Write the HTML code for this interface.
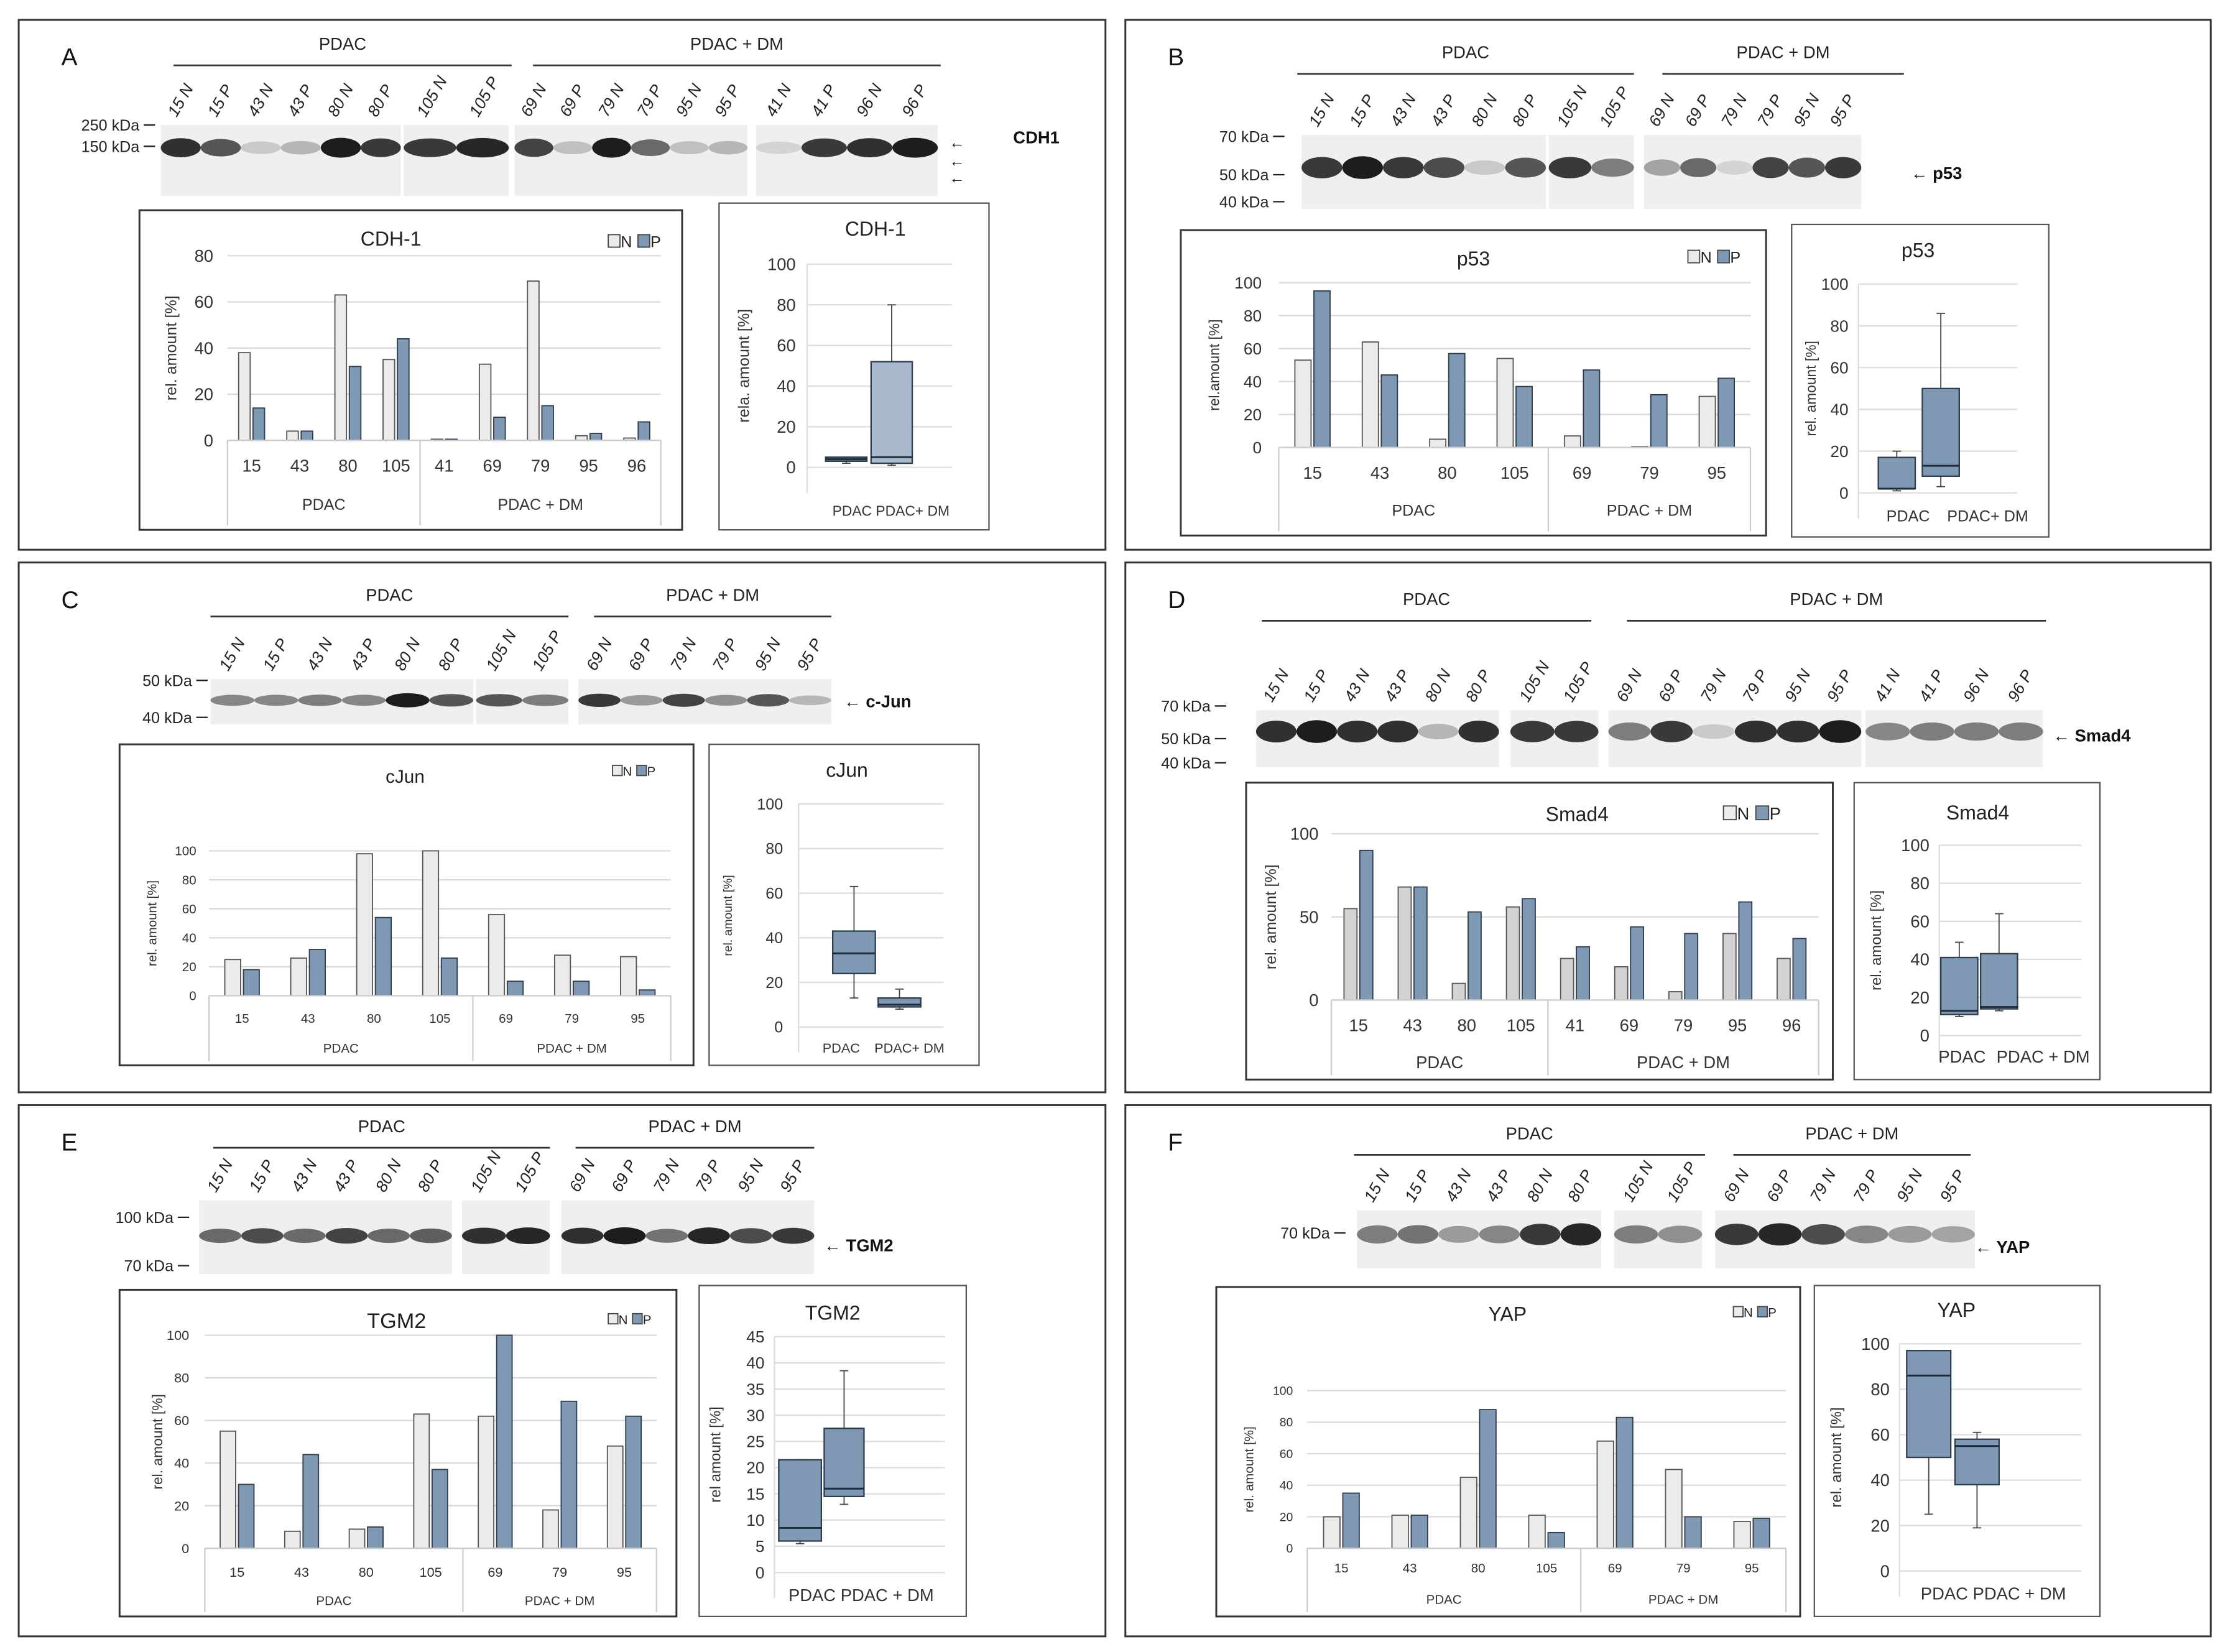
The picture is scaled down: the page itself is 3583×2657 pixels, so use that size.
<!DOCTYPE html>
<html><head><meta charset="utf-8"><style>
html,body{margin:0;padding:0;background:#fff;}
svg{display:block;font-family:"Liberation Sans",sans-serif;}
</style></head><body>
<svg id="fig" width="3583" height="2657" viewBox="0 0 1568 1163" xmlns="http://www.w3.org/2000/svg"></svg>
<script>
// ---------- DATA ----------
const aCats=['15','43','80','105','41','69','79','95','96'];
const aN=[38,4,63,35,0.5,33,69,2,1];
const aP=[14,4,32,44,0.5,10,15,3,8];
const aTicks=[0,20,40,60,80];
const aBoxPDAC=[2,3,4,5,5];
const aBoxDM=[1,2,5,52,80];
const bCats=['15','43','80','105','69','79','95'];
const bN=[53,64,5,54,7,0.5,31];
const bP=[95,44,57,37,47,32,42];
const bTicks=[0,20,40,60,80,100];
const bBoxPDAC=[1,2,2,17,20];
const bBoxDM=[3,8,13,50,86];
const cCats=['15','43','80','105','69','79','95'];
const cN=[25,26,98,100,56,28,27];
const cP=[18,32,54,26,10,10,4];
const cTicks=[0,20,40,60,80,100];
const cBoxPDAC=[13,24,33,43,63];
const cBoxDM=[8,9,10,13,17];
const dCats=['15','43','80','105','41','69','79','95','96'];
const dN=[55,68,10,56,25,20,5,40,25];
const dP=[90,68,53,61,32,44,40,59,37];
const dTicks=[0,50,100];
const dBoxTicks=[0,20,40,60,80,100];
const dBoxPDAC=[10,11,13,41,49];
const dBoxDM=[13,14,15,43,64];
const eCats=['15','43','80','105','69','79','95'];
const eN=[55,8,9,63,62,18,48];
const eP=[30,44,10,37,100,69,62];
const eTicks=[0,20,40,60,80,100];
const eBoxTicks=[0,5,10,15,20,25,30,35,40,45];
const eBoxPDAC=[5.5,6,8.5,21.5,21.5];
const eBoxDM=[13,14.5,16,27.5,38.5];
const fCats=['15','43','80','105','69','79','95'];
const fN=[20,21,45,21,68,50,17];
const fP=[35,21,88,10,83,20,19];
const fTicks=[0,20,40,60,80,100];
const fBoxPDAC=[25,50,86,97,97];
const fBoxDM=[19,38,55,58,61];

// ---------- HELPERS ----------
const NS='http://www.w3.org/2000/svg';
const svg=document.getElementById('fig');
function mk(tag,parent,attrs,text){const e=document.createElementNS(NS,tag);for(const k in attrs)e.setAttribute(k,attrs[k]);if(text!==undefined)e.textContent=text;parent.appendChild(e);return e;}
const NC='#ebebeb', PC='#7f98b3';

function barChart(o){
  const g=mk('g',svg,{});
  
  
  const [x1,y1,x2,y2]=o.box;
  const fr=mk('rect',g,{x:x1,y:y1,width:x2-x1,height:y2-y1,fill:'#fff',stroke:'#333','stroke-width':1.3});
  
  
  const t=mk('text',g,{x:o.tx,y:o.ty,'font-size':o.tfs||14,'text-anchor':'middle',fill:'#222'},o.title);
  
  
  const lg=mk('g',g,{});
  
  
  const ls=o.lfs||10;
  mk('rect',lg,{x:o.legend[0],y:o.legend[1]-ls*0.8,width:ls*0.75,height:ls*0.8,fill:NC,stroke:'#444','stroke-width':0.8});
  mk('text',lg,{x:o.legend[0]+ls*0.8,y:o.legend[1],'font-size':ls,fill:'#222'},'N');
  mk('rect',lg,{x:o.legend[0]+ls*1.9,y:o.legend[1]-ls*0.8,width:ls*0.75,height:ls*0.8,fill:PC,stroke:'#444','stroke-width':0.8});
  mk('text',lg,{x:o.legend[0]+ls*2.7,y:o.legend[1],'font-size':ls,fill:'#222'},'P');
  const ymax=o.ticks[o.ticks.length-1];
  const ys=v=>o.y0-(v/ymax)*(o.y0-o.yTop);
  o.ticks.forEach(v=>{
    if(v>0){const gl=mk('line',g,{x1:o.px1,x2:o.px2,y1:ys(v),y2:ys(v),stroke:'#d9d9d9','stroke-width':1});
      
      }
    const tl=mk('text',g,{x:o.lx,y:ys(v)+o.tkfs*0.35,'font-size':o.tkfs,'text-anchor':'end',fill:'#333'},String(v));
    
    
  });
  const yt=mk('text',g,{x:o.ytx,y:(o.y0+o.yTop)/2,'font-size':o.ytfs||10,'text-anchor':'middle',fill:'#333',transform:`rotate(-90 ${o.ytx} ${(o.y0+o.yTop)/2})`},o.ytitle||'rel. amount [%]');
  
  
  const n=o.cats.length, gw=(o.px2-o.px1)/n, bw=gw*0.24;
  o.cats.forEach((c,i)=>{
    const cx=o.px1+gw*(i+0.5);
    const rn=mk('rect',g,{x:cx-bw-1,y:ys(o.n[i]),width:bw,height:o.y0-ys(o.n[i]),fill:o.ncol||NC,stroke:'#555','stroke-width':0.8});
    
    
    const rp=mk('rect',g,{x:cx+1,y:ys(o.p[i]),width:bw,height:o.y0-ys(o.p[i]),fill:PC,stroke:'#2e3d4d','stroke-width':0.8});
    
    
    const cl=mk('text',g,{x:cx,y:o.catY,'font-size':o.cfs,'text-anchor':'middle',fill:'#333'},c);
    
    
  });
  const sx=o.px1+gw*o.sep;
  [o.px1,sx,o.px2].forEach(x=>mk('line',g,{x1:x,x2:x,y1:o.y0,y2:y2-3,stroke:'#ccc','stroke-width':1}));
  mk('line',g,{x1:o.px1,x2:o.px2,y1:o.y0,y2:o.y0,stroke:'#ccc','stroke-width':1});
  const g1=mk('text',g,{x:(o.px1+sx)/2,y:o.gY,'font-size':o.gfs,'text-anchor':'middle',fill:'#333'},'PDAC');
  
  
  const g2=mk('text',g,{x:(sx+o.px2)/2,y:o.gY,'font-size':o.gfs,'text-anchor':'middle',fill:'#333'},'PDAC + DM');
  
  
}

function boxChart(o){
  const g=mk('g',svg,{});
  
  
  const [x1,y1,x2,y2]=o.box;
  const fr=mk('rect',g,{x:x1,y:y1,width:x2-x1,height:y2-y1,fill:'#fff',stroke:'#555','stroke-width':1});
  
  
  const t=mk('text',g,{x:o.tx,y:o.ty,'font-size':14,'text-anchor':'middle',fill:'#222'},o.title);
  
  
  const ymax=o.ticks[o.ticks.length-1];
  const ys=v=>o.y0-(v/ymax)*(o.y0-o.yTop);
  o.ticks.forEach(v=>{
    const gl=mk('line',g,{x1:o.px1,x2:o.px2,y1:ys(v),y2:ys(v),stroke:'#ddd','stroke-width':1});
    
    
    const tl=mk('text',g,{x:o.lx,y:ys(v)+o.tkfs*0.35,'font-size':o.tkfs,'text-anchor':'end',fill:'#333'},String(v));
    
    
  });
  mk('line',g,{x1:o.px1,x2:o.px1,y1:o.yTop,y2:o.y0+18,stroke:'#ddd','stroke-width':1});
  const yc=(o.y0+o.yTop)/2;
  const yt=mk('text',g,{x:o.ytx,y:yc,'font-size':o.ytfs||10,'text-anchor':'middle',fill:'#333',transform:`rotate(-90 ${o.ytx} ${yc})`},o.ytitle||'rel. amount [%]');
  
  
  o.boxes.forEach((b,i)=>{
    const s=b.s, cx=b.x+b.w/2;
    const bg=mk('g',g,{});
    
    
    mk('line',bg,{x1:cx,x2:cx,y1:ys(s[4]),y2:ys(s[3]),stroke:'#444','stroke-width':0.8});
    mk('line',bg,{x1:cx-3,x2:cx+3,y1:ys(s[4]),y2:ys(s[4]),stroke:'#444','stroke-width':0.8});
    mk('line',bg,{x1:cx,x2:cx,y1:ys(s[1]),y2:ys(s[0]),stroke:'#444','stroke-width':0.8});
    mk('line',bg,{x1:cx-3,x2:cx+3,y1:ys(s[0]),y2:ys(s[0]),stroke:'#444','stroke-width':0.8});
    mk('rect',bg,{x:b.x,y:ys(s[3]),width:b.w,height:Math.max(1,ys(s[1])-ys(s[3])),fill:b.fill||PC,stroke:'#2e3d4d','stroke-width':1});
    mk('line',bg,{x1:b.x,x2:b.x+b.w,y1:ys(s[2]),y2:ys(s[2]),stroke:'#1e2b38','stroke-width':1.3});
  });
  o.labels.forEach(l=>{
    const tl=mk('text',g,{x:l[1],y:o.labY,'font-size':o.lfs||11,'text-anchor':'middle',fill:'#333'},l[0]);
    
    
  });
}

function panel(letter,x1,y1,x2,y2){
  const r=mk('rect',svg,{x:x1,y:y1,width:x2-x1,height:y2-y1,fill:'none',stroke:'#333','stroke-width':1.3});
  
  
  const t=mk('text',svg,{x:x1+30,y:y1+32,'font-size':17,fill:'#111'},letter);
  
  
}

function blot(o){
  const g=mk('g',svg,{});
  
  
  o.headers.forEach(h=>{
    mk('line',g,{x1:h[1],x2:h[2],y1:o.hy,y2:o.hy,stroke:'#333','stroke-width':1.2});
    const ht=mk('text',g,{x:(h[1]+h[2])/2,y:o.hy-11,'font-size':12,'text-anchor':'middle',fill:'#222'},h[0]);
    
    
  });
  o.strips.forEach(s=>{
    const [sx1,sx2,labs,ints]=s;
    mk('rect',g,{x:sx1,y:o.y1,width:sx2-sx1,height:o.y2-o.y1,fill:'#efefef'});
    const lw=(sx2-sx1)/labs.length;
    labs.forEach((l,i)=>{
      const cx=sx1+lw*(i+0.5);
      const band=mk('ellipse',g,{cx:cx,cy:o.by,rx:lw*0.5,ry:o.bh*(0.6+0.4*ints[i]),fill:'#111','fill-opacity':0.08+0.87*ints[i]});
      
      
      const lx=cx-3, ly=o.y1-5;
      const lt=mk('text',g,{x:lx,y:ly,'font-size':11.5,'font-style':'italic',fill:'#222',transform:`rotate(-60 ${lx} ${ly})`},l);
      
      
    });
  });
  o.kda.forEach(k=>{
    const kt=mk('text',g,{x:k[1],y:k[2]+4,'font-size':11,'text-anchor':'end',fill:'#222'},k[0]+' kDa');
    
    
    mk('line',g,{x1:k[1]+3,x2:k[1]+11,y1:k[2],y2:k[2],stroke:'#222','stroke-width':1});
  });
  const pt=mk('text',g,{x:o.prot[1],y:o.prot[2]+4,'font-size':12,'font-weight':'bold',fill:'#111'},(o.arrow?'← ':'')+o.prot[0]);
  
  
}

// ---------- PANELS ----------
panel('A',13,14,778,387);panel('B',792,14,1556,387);
panel('C',13,396,778,769);panel('D',792,396,1556,769);
panel('E',13,778,778,1152);panel('F',792,778,1556,1152);

blot({name:'blot-a-cdh1',hy:46,y1:88,y2:138,by:104,bh:7,
 headers:[['PDAC',122,360],['PDAC + DM',375,662]],
 strips:[[113,282,['15 N','15 P','43 N','43 P','80 N','80 P'],[0.9,0.7,0.1,0.2,1,0.85]],
  [284,358,['105 N','105 P'],[0.85,0.95]],
  [362,526,['69 N','69 P','79 N','79 P','95 N','95 P'],[0.8,0.15,1,0.6,0.15,0.2]],
  [532,660,['41 N','41 P','96 N','96 P'],[0.05,0.85,0.9,1]]],
 kda:[['250',98,88],['150',98,103]],prot:['CDH1',713,97],arrow:false});
mk('text',svg,{x:668,y:104,'font-size':11,fill:'#111'},'←');
mk('text',svg,{x:668,y:117,'font-size':11,fill:'#111'},'←');
mk('text',svg,{x:668,y:129,'font-size':11,fill:'#111'},'←');

blot({name:'blot-b-p53',hy:52,y1:95,y2:147,by:118,bh:8,
 headers:[['PDAC',913,1150],['PDAC + DM',1170,1340]],
 strips:[[916,1088,['15 N','15 P','43 N','43 P','80 N','80 P'],[0.85,1,0.85,0.75,0.1,0.7]],
  [1090,1150,['105 N','105 P'],[0.85,0.5]],
  [1157,1310,['69 N','69 P','79 N','79 P','95 N','95 P'],[0.3,0.6,0.05,0.8,0.7,0.85]]],
 kda:[['70',893,96],['50',893,123],['40',893,142]],prot:['p53',1345,122],arrow:true});

blot({name:'blot-c-cjun',hy:434,y1:478,y2:510,by:493,bh:5,
 headers:[['PDAC',148,400],['PDAC + DM',418,585]],
 strips:[[148,333,['15 N','15 P','43 N','43 P','80 N','80 P'],[0.45,0.45,0.5,0.45,1,0.7]],
  [335,400,['105 N','105 P'],[0.7,0.5]],
  [407,585,['69 N','69 P','79 N','79 P','95 N','95 P'],[0.85,0.35,0.8,0.4,0.7,0.2]]],
 kda:[['50',135,479],['40',135,505]],prot:['c-Jun',594,494],arrow:true});

blot({name:'blot-d-smad4',hy:437,y1:500,y2:540,by:515,bh:8,
 headers:[['PDAC',888,1120],['PDAC + DM',1145,1440]],
 strips:[[884,1055,['15 N','15 P','43 N','43 P','80 N','80 P'],[0.9,1,0.9,0.9,0.2,0.9]],
  [1063,1125,['105 N','105 P'],[0.85,0.85]],
  [1132,1310,['69 N','69 P','79 N','79 P','95 N','95 P'],[0.5,0.85,0.1,0.9,0.9,1]],
  [1313,1438,['41 N','41 P','96 N','96 P'],[0.45,0.5,0.5,0.5]]],
 kda:[['70',852,497],['50',852,520],['40',852,537]],prot:['Smad4',1445,518],arrow:true});

blot({name:'blot-e-tgm2',hy:808,y1:845,y2:897,by:870,bh:6,
 headers:[['PDAC',150,387],['PDAC + DM',405,573]],
 strips:[[140,318,['15 N','15 P','43 N','43 P','80 N','80 P'],[0.6,0.75,0.6,0.8,0.6,0.65]],
  [325,387,['105 N','105 P'],[0.9,0.95]],
  [395,573,['69 N','69 P','79 N','79 P','95 N','95 P'],[0.9,1,0.55,0.95,0.75,0.85]]],
 kda:[['100',122,857],['70',122,891]],prot:['TGM2',580,877],arrow:true});

blot({name:'blot-f-yap',hy:813,y1:852,y2:893,by:869,bh:8,
 headers:[['PDAC',953,1200],['PDAC + DM',1220,1387]],
 strips:[[955,1127,['15 N','15 P','43 N','43 P','80 N','80 P'],[0.5,0.55,0.35,0.45,0.85,0.95]],
  [1136,1198,['105 N','105 P'],[0.5,0.4]],
  [1207,1390,['69 N','69 P','79 N','79 P','95 N','95 P'],[0.85,0.95,0.75,0.45,0.35,0.3]]],
 kda:[['70',936,868]],prot:['YAP',1390,878],arrow:true});

// ---------- CHARTS ----------
barChart({name:'bar-chart-a',box:[98,148,480,373],title:'CDH-1',tx:275,ty:173,legend:[428,174],lfs:11,
 ticks:aTicks,y0:310,yTop:180,px1:160,px2:465,lx:150,tkfs:12,ytx:124,ytfs:11,
 cats:aCats,n:aN,p:aP,sep:4,catY:332,cfs:12,gY:359,gfs:11});
boxChart({name:'box-chart-a',box:[506,143,696,373],title:'CDH-1',tx:616,ty:166,
 ticks:[0,20,40,60,80,100],y0:329,yTop:186,px1:568,px2:670,lx:560,tkfs:12,ytx:527,ytitle:'rela. amount [%]',ytfs:11,
 boxes:[{x:581,w:29,s:aBoxPDAC,label:'pdac',fill:'#5f7a96'},{x:613,w:29,s:aBoxDM,label:'pdac-dm',fill:'#a9bacd'}],
 labels:[['PDAC PDAC+ DM',627]],labY:363,lfs:10});

barChart({name:'bar-chart-b',box:[831,162,1243,377],title:'p53',tx:1037,ty:187,legend:[1188,185],lfs:11,
 ticks:bTicks,y0:315,yTop:199,px1:900,px2:1232,lx:888,tkfs:11.5,ytx:858,ytfs:10,ytitle:'rel.amount [%]',
 cats:bCats,n:bN,p:bP,sep:4,catY:337,cfs:12,gY:363,gfs:11});
boxChart({name:'box-chart-b',box:[1261,158,1442,378],title:'p53',tx:1350,ty:181,
 ticks:[0,20,40,60,80,100],y0:347,yTop:200,px1:1308,px2:1420,lx:1301,tkfs:11.5,ytx:1278,ytfs:10,
 boxes:[{x:1322,w:26,s:bBoxPDAC,label:'pdac'},{x:1353,w:26,s:bBoxDM,label:'pdac-dm'}],
 labels:[['PDAC',1343],['PDAC+ DM',1399]],labY:367,lfs:11});

barChart({name:'bar-chart-c',box:[84,524,488,750],title:'cJun',tx:285,ty:551,tfs:13,legend:[431,546],lfs:9,
 ticks:cTicks,y0:701,yTop:599,px1:147,px2:472,lx:138,tkfs:9,ytx:110,ytfs:9,
 cats:cCats,n:cN,p:cP,sep:4,catY:720,cfs:9,gY:741,gfs:9});
boxChart({name:'box-chart-c',box:[499,524,689,750],title:'cJun',tx:596,ty:547,
 ticks:[0,20,40,60,80,100],y0:723,yTop:566,px1:562,px2:664,lx:551,tkfs:11,ytx:515,ytfs:8.5,
 boxes:[{x:586,w:30,s:cBoxPDAC,label:'pdac'},{x:618,w:30,s:cBoxDM,label:'pdac-dm'}],
 labels:[['PDAC',592],['PDAC+ DM',640]],labY:741,lfs:9.5});

barChart({name:'bar-chart-d',box:[877,551,1290,760],title:'Smad4',tx:1110,ty:578,legend:[1213,577],lfs:12,ncol:'#d3d3d3',
 ticks:dTicks,y0:704,yTop:587,px1:937,px2:1280,lx:928,tkfs:12,ytx:898,ytfs:11,
 cats:dCats,n:dN,p:dP,sep:4,catY:726,cfs:12,gY:752,gfs:12});
boxChart({name:'box-chart-d',box:[1305,551,1478,760],title:'Smad4',tx:1392,ty:577,
 ticks:dBoxTicks,y0:729,yTop:595,px1:1365,px2:1465,lx:1358,tkfs:12,ytx:1324,ytfs:10.5,
 boxes:[{x:1366,w:26,s:dBoxPDAC,label:'pdac'},{x:1394,w:26,s:dBoxDM,label:'pdac-dm'}],
 labels:[['PDAC',1381],['PDAC + DM',1438]],labY:748,lfs:12});

barChart({name:'bar-chart-e',box:[84,908,476,1138],title:'TGM2',tx:279,ty:935,tfs:15,legend:[428,932],lfs:9,
 ticks:eTicks,y0:1090,yTop:940,px1:144,px2:462,lx:133,tkfs:9.5,ytx:114,ytfs:10,
 cats:eCats,n:eN,p:eP,sep:4,catY:1110,cfs:9.5,gY:1130,gfs:9});
boxChart({name:'box-chart-e',box:[492,905,680,1138],title:'TGM2',tx:586,ty:929,
 ticks:eBoxTicks,y0:1107,yTop:941,px1:545,px2:665,lx:538,tkfs:11.5,ytx:507,ytitle:'rel amount [%]',ytfs:10.5,
 boxes:[{x:548,w:30,s:eBoxPDAC,label:'pdac'},{x:580,w:28,s:eBoxDM,label:'pdac-dm'}],
 labels:[['PDAC PDAC + DM',606]],labY:1127,lfs:12});

barChart({name:'bar-chart-f',box:[856,906,1267,1138],title:'YAP',tx:1061,ty:930,tfs:14,legend:[1220,927],lfs:9,
 ticks:fTicks,y0:1090,yTop:979,px1:920,px2:1257,lx:910,tkfs:8.5,ytx:882,ytfs:9,
 cats:fCats,n:fN,p:fP,sep:4,catY:1107,cfs:9,gY:1129,gfs:9});
boxChart({name:'box-chart-f',box:[1277,905,1478,1138],title:'YAP',tx:1377,ty:927,
 ticks:[0,20,40,60,80,100],y0:1106,yTop:946,px1:1337,px2:1465,lx:1330,tkfs:12,ytx:1296,ytfs:10.5,
 boxes:[{x:1342,w:31,s:fBoxPDAC,label:'pdac'},{x:1376,w:31,s:fBoxDM,label:'pdac-dm'}],
 labels:[['PDAC PDAC + DM',1403]],labY:1126,lfs:12});
</script>
</body></html>
